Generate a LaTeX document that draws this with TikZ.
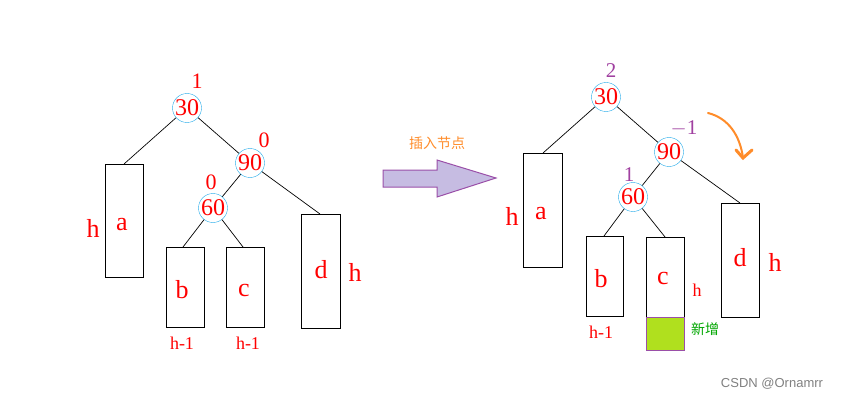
\documentclass[tikz,border=0pt]{standalone}
\usepackage{fontspec}
\setmainfont{Liberation Serif}
\newfontfamily\cjk{Noto Sans CJK SC}
\newfontfamily\sans{Liberation Sans}
\definecolor{lav}{HTML}{C6BCE2}
\definecolor{lavd}{HTML}{9A4FA8}
\definecolor{grn}{HTML}{B0E01E}
\definecolor{org}{HTML}{FF8C2A}
\definecolor{pur}{HTML}{A040A0}
\definecolor{cy}{HTML}{1EA8E8}
\begin{document}
\begin{tikzpicture}[x=1pt,y=-1pt,
 nd/.style={circle,draw=cy,minimum size=29pt,inner sep=0pt,text=red,font=\fontsize{24}{24}\selectfont},
 box/.style={draw=black,line width=0.8pt},
 lbl/.style={text=red,font=\fontsize{26}{26}\selectfont},
 sm/.style={text=red,font=\fontsize{22}{22}\selectfont},
 hm/.style={text=red,font=\fontsize{18}{18}\selectfont},
 bf/.style={text=pur,font=\fontsize{21}{21}\selectfont},
 ln/.style={draw=black,line width=0.7pt}]
\useasboundingbox (0,0) rectangle (859,401);
% left tree
\node[nd] (l30) at (187,108) {30};
\node[nd] (l90) at (250,163) {90};
\node[nd] (l60) at (213,208) {60};
\node[sm] (lb30) at (197,81) {1};
\node[sm] (lb90) at (264,140) {0};
\node[sm] (lb60) at (211,182) {0};
\draw[box] (105,164) rectangle (143,277);
\draw[box] (166,247) rectangle (204,327);
\draw[box] (226,247) rectangle (264,327);
\draw[box] (301,214) rectangle (340,328);
\coordinate (la) at (124,164); \coordinate (lb) at (183,247);
\coordinate (lc) at (243,247); \coordinate (ld) at (320,214);
\draw[ln] (l30) -- (la); \draw[ln] (l30) -- (l90); \draw[ln] (l90) -- (l60);
\draw[ln] (l90) -- (ld); \draw[ln] (l60) -- (lb); \draw[ln] (l60) -- (lc);
\node[lbl] (t1) at (122,225) {a}; \node[lbl] (t2) at (93,228) {h};
\node[lbl] (t3) at (182,290) {b}; \node[lbl] (t4) at (244,290) {c};
\node[lbl] (t5) at (321,270) {d}; \node[lbl] (t6) at (355,272) {h};
\node[hm] (t7) at (182,343) {h-1}; \node[hm] (t8) at (248,343) {h-1};
% arrow
\node[text=org,font=\cjk\fontsize{14}{14}\selectfont] (ins) at (437,143) {插入节点};
\draw[draw=lavd,fill=lav,line width=1pt] (383,170) -- (437,170) -- (437,160) -- (496,178) -- (437,197) -- (437,187) -- (383,187) -- cycle;
% right tree
\node[nd] (r30) at (606,97) {30};
\node[nd] (r90) at (669,152) {90};
\node[nd] (r60) at (633,197) {60};
\node[bf] (rb30) at (611,71) {2};
\node[bf] (rb90) at (684,128) {$-$1};
\node[bf] (rb60) at (629,175) {1};
\draw[box] (523,153) rectangle (562,267);
\draw[box] (586,236) rectangle (623,316);
\draw[box] (646,237) rectangle (684,317);
\draw[box] (721,203) rectangle (759,317);
\draw[draw=lavd,fill=grn] (646,317) rectangle (684,350);
\coordinate (ra) at (543,153); \coordinate (rb) at (604,236);
\coordinate (rc) at (665,237); \coordinate (rd) at (740,203);
\draw[ln] (r30) -- (ra); \draw[ln] (r30) -- (r90); \draw[ln] (r90) -- (r60);
\draw[ln] (r90) -- (rd); \draw[ln] (r60) -- (rb); \draw[ln] (r60) -- (rc);
\node[lbl] (s1) at (541,214) {a}; \node[lbl] (s2) at (512,216) {h};
\node[lbl] (s3) at (601,279) {b}; \node[lbl] (s4) at (663,278) {c};
\node[lbl] (s5) at (740,258) {d}; \node[lbl] (s6) at (775,262) {h};
\node[hm] (s7) at (601,332) {h-1}; \node[hm] (s8) at (697,290) {h};
\node[text=green!65!black,font=\cjk\fontsize{14}{14}\selectfont] (new) at (705,329) {新增};
\draw[org,line width=2pt,line cap=round] (708,113) .. controls (728,118) and (740,135) .. (743,158);
\draw[org,line width=3pt,line cap=round] (736,150) -- (743,158) -- (752,150);
\node[text=gray,font=\sans\fontsize{13}{13}\selectfont] (csdn) at (772,384) {CSDN @Ornamrr};
\end{tikzpicture}
\end{document}
